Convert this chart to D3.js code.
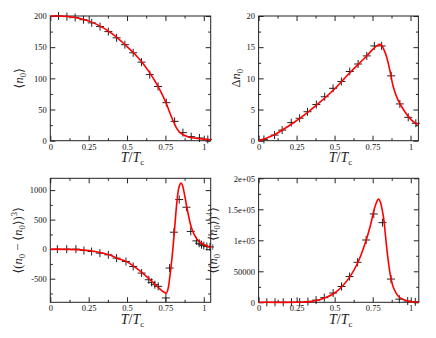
<!DOCTYPE html>
<html>
<head>
<meta charset="utf-8">
<script src="https://cdn.jsdelivr.net/npm/d3@7"></script>
<style>
  body { margin: 0; background: #fff; }
  .tick line { stroke: #222; stroke-width: 1; }
  .frame { fill: none; stroke: #222; stroke-width: 1; }
  .fit { fill: none; stroke: #ff0000; stroke-width: 1.6; }
  .mark { fill: none; stroke: #222; stroke-width: 1; }
</style>
</head>
<body>
<div class="chart"></div>
<script>
const SERIF = "'Liberation Serif', 'DejaVu Serif', 'Times New Roman', serif"

// ticks
const xTicks = [0, 0.25, 0.5, 0.75, 1]
const xTickLabels = ['0', '0.25', '0.5', '0.75', '1']
const xMinor = [0.125, 0.375, 0.625, 0.875]

// panel 1 : <n0>
const n0T = [0.054, 0.108, 0.162, 0.216, 0.27, 0.324, 0.378, 0.432, 0.486, 0.54, 0.594, 0.648, 0.702, 0.756, 0.81, 0.864, 0.918, 0.972, 1.026]
const n0Val = [200, 199, 197.5, 194, 189, 183, 175, 165, 154, 141, 126, 106, 87, 61, 31, 13, 6.5, 4.4, 2]
const n0FitT = [0, 0.1, 0.2, 0.3, 0.4, 0.5, 0.55, 0.6, 0.65, 0.7, 0.75, 0.78, 0.82, 0.845, 0.9, 0.95, 1.0, 1.045]
const n0FitVal = [200, 199.5, 195.5, 187, 172, 151, 139, 125, 108, 88, 63, 44, 21.5, 13, 6, 4, 2.5, 1.5]
const n0Ticks = [0, 50, 100, 150, 200]
const n0Minor = [25, 75, 125, 175]

// panel 2 : delta n0
const dnT = [0.035, 0.105, 0.155, 0.215, 0.27, 0.322, 0.38, 0.435, 0.49, 0.545, 0.6, 0.655, 0.712, 0.762, 0.81, 0.873, 0.93, 0.985, 1.035]
const dnVal = [0.2, 0.9, 1.7, 2.9, 3.6, 4.65, 5.8, 7.05, 8.4, 9.5, 11.1, 12.3, 13.6, 15.2, 15.2, 10.4, 5.9, 3.75, 2.8]
const dnFitT = [0, 0.05, 0.1, 0.2, 0.3, 0.4, 0.5, 0.6, 0.7, 0.75, 0.78, 0.795, 0.81, 0.825, 0.842, 0.864, 0.886, 0.918, 0.963, 1.007, 1.046]
const dnFitVal = [0, 0.4, 0.9, 2.4, 4.1, 6.1, 8.3, 10.9, 13.3, 14.6, 15.25, 15.45, 15.3, 14.6, 13.5, 11.3, 8.7, 6.5, 4.65, 3.3, 2.6]
const dnTicks = [0, 5, 10, 15, 20]
const dnMinor = [2.5, 7.5, 12.5, 17.5]

// panel 3 : third moment
const m3T = [0.046, 0.107, 0.167, 0.219, 0.269, 0.323, 0.378, 0.432, 0.493, 0.54, 0.595, 0.642, 0.66, 0.681, 0.703, 0.753, 0.777, 0.805, 0.84, 0.887, 0.915, 0.952, 0.97, 0.985, 1.0, 1.02, 1.04]
const m3Val = [0, 0, 0, -23, -40, -67, -96, -152, -209, -293, -405, -518, -563, -602, -630, -826, -320, 287, 840, 710, 300, 140, 100, 75, 60, 45, 38]
const m3FitT = [0, 0.1, 0.2, 0.3, 0.4, 0.43, 0.5, 0.54, 0.6, 0.65, 0.7, 0.73, 0.745, 0.757, 0.768, 0.779, 0.796, 0.811, 0.826, 0.839, 0.852, 0.862, 0.874, 0.886, 0.898, 0.92, 0.95, 0.975, 1.0, 1.045]
const m3FitVal = [0, -3, -12, -45, -110, -150, -215, -282, -400, -518, -641, -710, -735, -745, -660, -462, -67, 381, 831, 1056, 1118, 1075, 930, 760, 600, 360, 190, 115, 75, 30]
const m3Ticks = [-500, 0, 500, 1000]
const m3Minor = [-750, -250, 250, 750]

// panel 4 : fourth moment
const m4T = [0.054, 0.108, 0.162, 0.216, 0.27, 0.324, 0.378, 0.432, 0.49, 0.545, 0.598, 0.65, 0.707, 0.757, 0.814, 0.87, 0.925, 0.98, 1.03]
const m4Val = [0, 0, 0, 100, 400, 1200, 3500, 7500, 15000, 25500, 41500, 64500, 100500, 142500, 128500, 37500, 5000, 2000, 700]
const m4FitT = [0, 0.25, 0.3, 0.35, 0.4, 0.45, 0.5, 0.55, 0.6, 0.65, 0.7, 0.735, 0.76, 0.78, 0.789, 0.8, 0.81, 0.822, 0.845, 0.866, 0.888, 0.921, 0.965, 1.0, 1.05]
const m4FitVal = [0, 0, 500, 1500, 4000, 8500, 15000, 26000, 41000, 63000, 95000, 124000, 150000, 164000, 166600, 162000, 152000, 135500, 81600, 44000, 22600, 9000, 3200, 800, 0]
const m4Ticks = [0, 50000, 100000, 150000, 200000]
const m4TickLabels = ['0', '50000', '1e+05', '1.5e+05', '2e+05']
const m4Minor = [25000, 75000, 125000, 175000]

function draw() {
  const svg = d3.select('.chart')
                .append('svg')
                .attr('width', 436)
                .attr('height', 338)

  svg.append('rect').attr('width', 436).attr('height', 338).attr('fill', '#fff')

  const zip = (a, b) => a.map((d, i) => [d, b[i]])

  // y label pieces: [text, style] style: i = italic, s = subscript, p = superscript
  const panels = [
    { left: 50.3, right: 210.7, top: 16, bottom: 140.7, xMax: 1.045, yDom: [0, 200],
      yTicks: n0Ticks, yLabels: n0Ticks.map(String), yMinor: n0Minor,
      pts: zip(n0T, n0Val), fit: zip(n0FitT, n0FitVal), labX: 23,
      ylab: [['\u27E8', ''], ['n', 'i'], ['0', 's'], ['\u27E9', '']] },
    { left: 258.6, right: 418.4, top: 16, bottom: 140.7, xMax: 1.052, yDom: [0, 20],
      yTicks: dnTicks, yLabels: dnTicks.map(String), yMinor: dnMinor,
      pts: zip(dnT, dnVal), fit: zip(dnFitT, dnFitVal), labX: 239.5,
      ylab: [['\u0394', ''], ['n', 'i'], ['0', 's']] },
    { left: 50.3, right: 210.7, top: 178.3, bottom: 302.3, xMax: 1.045, yDom: [-900, 1200],
      yTicks: m3Ticks, yLabels: m3Ticks.map(String), yMinor: m3Minor,
      pts: zip(m3T, m3Val), fit: zip(m3FitT, m3FitVal), labX: 22,
      ylab: [['\u27E8(', ''], ['n', 'i'], ['0', 's'], [' \u2212 \u27E8', ''], ['n', 'i'], ['0', 's'], ['\u27E9)', ''], ['3', 'p'], ['\u27E9', '']] },
    { left: 258.6, right: 418.8, top: 178.3, bottom: 302.3, xMax: 1.053, yDom: [0, 200000],
      yTicks: m4Ticks, yLabels: m4TickLabels, yMinor: m4Minor,
      pts: zip(m4T, m4Val), fit: zip(m4FitT, m4FitVal), labX: 217,
      ylab: [['\u27E8(', ''], ['n', 'i'], ['0', 's'], [' \u2212 \u27E8', ''], ['n', 'i'], ['0', 's'], ['\u27E9)', ''], ['4', 'p'], ['\u27E9', '']] }
  ]

  panels.forEach(p => {
    const x = d3.scaleLinear().domain([0, p.xMax]).range([p.left, p.right])
    const y = d3.scaleLinear().domain(p.yDom).range([p.bottom, p.top])
    const g = svg.append('g')

    // ticks, all inward
    const addAxis = (axis, tx, ty) => {
      const a = g.append('g').attr('transform', `translate(${tx},${ty})`).call(axis)
      a.select('.domain').remove()
      a.attr('font-family', SERIF).attr('font-size', 8.5)
      a.selectAll('text').attr('fill', '#111')
      return a
    }
    addAxis(d3.axisBottom(x).tickValues(xTicks).tickSize(-5).tickPadding(3)
              .tickFormat((d, i) => xTickLabels[i]), 0, p.bottom)
    addAxis(d3.axisBottom(x).tickValues(xMinor).tickSize(-2.5).tickFormat(''), 0, p.bottom)
    addAxis(d3.axisTop(x).tickValues(xTicks).tickSize(-5).tickFormat(''), 0, p.top)
    addAxis(d3.axisTop(x).tickValues(xMinor).tickSize(-2.5).tickFormat(''), 0, p.top)
    addAxis(d3.axisLeft(y).tickValues(p.yTicks).tickSize(-5).tickPadding(3.5)
              .tickFormat((d, i) => p.yLabels[i]), p.left, 0)
    addAxis(d3.axisLeft(y).tickValues(p.yMinor).tickSize(-2.5).tickFormat(''), p.left, 0)
    addAxis(d3.axisRight(y).tickValues(p.yTicks).tickSize(-5).tickFormat(''), p.right, 0)
    addAxis(d3.axisRight(y).tickValues(p.yMinor).tickSize(-2.5).tickFormat(''), p.right, 0)

    g.append('rect').classed('frame', true)
      .attr('x', p.left).attr('y', p.top)
      .attr('width', p.right - p.left).attr('height', p.bottom - p.top)

    // data markers
    g.append('g').selectAll('path')
      .data(p.pts)
      .join('path')
      .classed('mark', true)
      .attr('d', 'M-4,0H4M0,-4V4')
      .attr('transform', d => `translate(${x(d[0])},${y(d[1])})`)

    // fit curve
    const lineGen = d3.line()
                      .curve(d3.curveCatmullRom.alpha(0.5))
                      .x(d => x(d[0]))
                      .y(d => y(d[1]))
    g.append('path').datum(p.fit).classed('fit', true).attr('d', lineGen)

    // x label T/Tc
    const xl = g.append('text')
                .attr('font-family', SERIF).attr('fill', '#222')
                .attr('x', (p.left + p.right) / 2 + 2).attr('y', p.bottom + 21.5)
                .attr('text-anchor', 'middle').attr('font-size', 14)
    xl.append('tspan').attr('font-style', 'italic').text('T')
    xl.append('tspan').text('/')
    xl.append('tspan').attr('font-style', 'italic').text('T')
    xl.append('tspan').attr('font-size', 9).attr('dy', 3).text('c')

    // y label
    const yl = g.append('text')
                .attr('font-family', SERIF).attr('fill', '#222')
                .attr('transform', `translate(${p.labX},${(p.top + p.bottom) / 2}) rotate(-90)`)
                .attr('text-anchor', 'middle').attr('font-size', 12.5)
    let shift = 0
    p.ylab.forEach(([t, s]) => {
      const sp = yl.append('tspan').text(t)
      let want = 0
      if (s === 'i') sp.attr('font-style', 'italic')
      if (s === 's') { sp.attr('font-size', 8.5); want = 3 }
      if (s === 'p') { sp.attr('font-size', 8.5); want = -5 }
      sp.attr('dy', want - shift)
      shift = want
    })
  })
}

draw()
</script>
</body>
</html>
